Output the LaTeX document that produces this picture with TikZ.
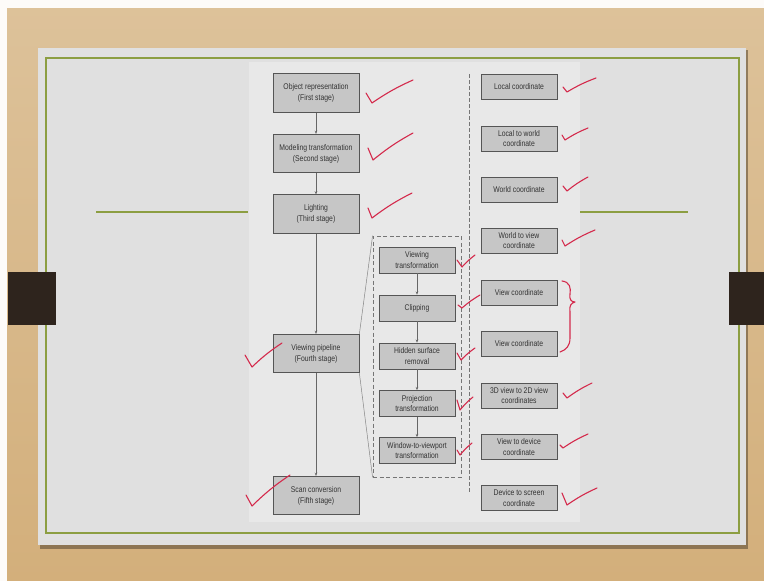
\documentclass[tikz,border=0pt]{standalone}
\usepackage{fontspec}
\newfontfamily\nf{Liberation Sans}[FakeStretch=0.82]
\usetikzlibrary{arrows.meta}
\definecolor{woodtop}{HTML}{DDC29A}
\definecolor{woodbot}{HTML}{D3AF7B}
\definecolor{slide}{HTML}{E0E0E0}
\definecolor{slidein}{HTML}{E8E8E8}
\definecolor{greenl}{HTML}{8C9E42}
\definecolor{boxfill}{HTML}{C6C6C6}
\definecolor{boxline}{HTML}{555555}
\definecolor{txt}{HTML}{333333}
\definecolor{arrowc}{HTML}{666666}
\definecolor{redc}{HTML}{D42A4C}
\definecolor{clipc}{HTML}{2E241D}
\tikzset{
  box/.style={draw=boxline, fill=boxfill, line width=0.75pt, inner sep=0pt, align=center,
    font=\nf\fontsize{8.3}{10.8}\selectfont, text=txt},
  lbox/.style={box, minimum width=86pt, minimum height=38.5pt},
  ibox/.style={box, minimum width=76pt, minimum height=26pt},
  rbox/.style={box, minimum width=76pt, minimum height=25pt},
  arr/.style={draw=arrowc, line width=0.6pt, -{Stealth[length=3.2pt,width=2.6pt]}},
  dline/.style={draw=arrowc!90, line width=0.8pt, dash pattern=on 3.5pt off 2.5pt},
  chk/.style={draw=redc, line width=1.1pt, line cap=round, line join=round},
  greenline/.style={draw=greenl, line width=1.1pt}
}
\newcommand\mychk[3]{\draw[chk] #1 -- #2 to[bend left=5] #3;}
\begin{document}
\begin{tikzpicture}[x=1pt,y=-1pt]
\useasboundingbox (0,0) rectangle (764,581);
% wood background
\shade[top color=woodtop, bottom color=woodbot] (0,0) rectangle (764,581);
\fill[white!94!woodtop] (0,0) rectangle (764,8);
\fill[white!94!woodtop] (0,0) rectangle (7,581);
% slide with shadow
\fill[black!55!woodbot, opacity=0.6] (40,50) rectangle (748,549);
\fill[slide] (38,48) rectangle (746,545);
\fill[slidein] (249,62) rectangle (580,522);
\draw[greenl, line width=1.1pt] (46,58) rectangle (739,533);
\draw[greenline] (96,212) -- (248,212);
\draw[greenline] (580,212) -- (688,212);
% binder clips
\fill[clipc] (8,272) rectangle (56,325);
\fill[clipc] (729,272) rectangle (764,325);

% left column
\node[lbox] (obj) at (316,93) {Object representation\\(First stage)};
\node[lbox] (mod) at (316,153.5) {Modeling transformation\\(Second stage)};
\node[lbox] (lig) at (316,214) {Lighting\\(Third stage)};
\node[lbox] (vp) at (316,353.5) {Viewing pipeline\\(Fourth stage)};
\node[lbox] (scan) at (316,495.5) {Scan conversion\\(Fifth stage)};
\draw[arr] (obj) -- (mod);
\draw[arr] (mod) -- (lig);
\draw[arr] (lig) -- (vp);
\draw[arr] (vp) -- (scan);

% viewing pipeline detail
\node[draw=arrowc!90, line width=0.8pt, dash pattern=on 4pt off 2.5pt,
  minimum width=88pt, minimum height=241pt, inner sep=0pt] (pipe) at (417,356.5) {};
\draw[draw=arrowc!80, line width=0.5pt] (vp.north east) -- (pipe.north west);
\draw[draw=arrowc!80, line width=0.5pt] (vp.south east) -- (pipe.south west);
\node[ibox] (vt) at (417,260) {Viewing\\transformation};
\node[ibox] (cl) at (417,308) {Clipping};
\node[ibox] (hs) at (417,356) {Hidden surface\\removal};
\node[ibox] (pt) at (417,403.5) {Projection\\transformation};
\node[ibox] (wv) at (417,450.5) {Window-to-viewport\\transformation};
\draw[arr] (vt) -- (cl);
\draw[arr] (cl) -- (hs);
\draw[arr] (hs) -- (pt);
\draw[arr] (pt) -- (wv);

% separator
\coordinate (dtop) at (469,74);
\coordinate (dbot) at (469,492);
\draw[dline] (dtop) -- (dbot);

% right column
\node[rbox] (r1) at (519,86.5) {Local coordinate};
\node[rbox] (r2) at (519,138.5) {Local to world\\coordinate};
\node[rbox] (r3) at (519,190) {World coordinate};
\node[rbox] (r4) at (519,240.5) {World to view\\coordinate};
\node[rbox] (r5) at (519,293) {View coordinate};
\node[rbox] (r6) at (519,344) {View coordinate};
\node[rbox] (r7) at (519,395.5) {3D view to 2D view\\coordinates};
\node[rbox] (r8) at (519,447) {View to device\\coordinate};
\node[rbox] (r9) at (519,498) {Device to screen\\coordinate};

% red check marks
\mychk{(366,93)}{(372,103)}{(413,80)}
\mychk{(368,148)}{(373,160)}{(413,133)}
\mychk{(368,208)}{(372,218)}{(412,193)}
\mychk{(245,355)}{(252,367)}{(282,343)}
\mychk{(246,495)}{(252,506)}{(290,475)}
\mychk{(457,260)}{(462,267)}{(475,255)}
\mychk{(458,305)}{(462,308)}{(480,295)}
\mychk{(457,353)}{(461,360)}{(475,348)}
\mychk{(457,400)}{(460,410)}{(473,397)}
\mychk{(457,450)}{(460,455)}{(472,443)}
\mychk{(563,87)}{(567,92)}{(596,78)}
\mychk{(562,135)}{(565,140)}{(588,128)}
\mychk{(563,186)}{(567,191)}{(588,177)}
\mychk{(562,240)}{(565,246)}{(595,230)}
\mychk{(563,393)}{(567,398)}{(592,383)}
\mychk{(560,445)}{(563,448)}{(588,434)}
\mychk{(562,493)}{(567,505)}{(597,488)}
% brace
\draw[chk] (562,281) .. controls (570,282) and (571,288) .. (570,294)
  .. controls (569,299) and (571,302) .. (575,302)
  .. controls (571,303) and (569,306) .. (570,312)
  -- (570,338) .. controls (570,346) and (566,350) .. (560,352);
\end{tikzpicture}
\end{document}
